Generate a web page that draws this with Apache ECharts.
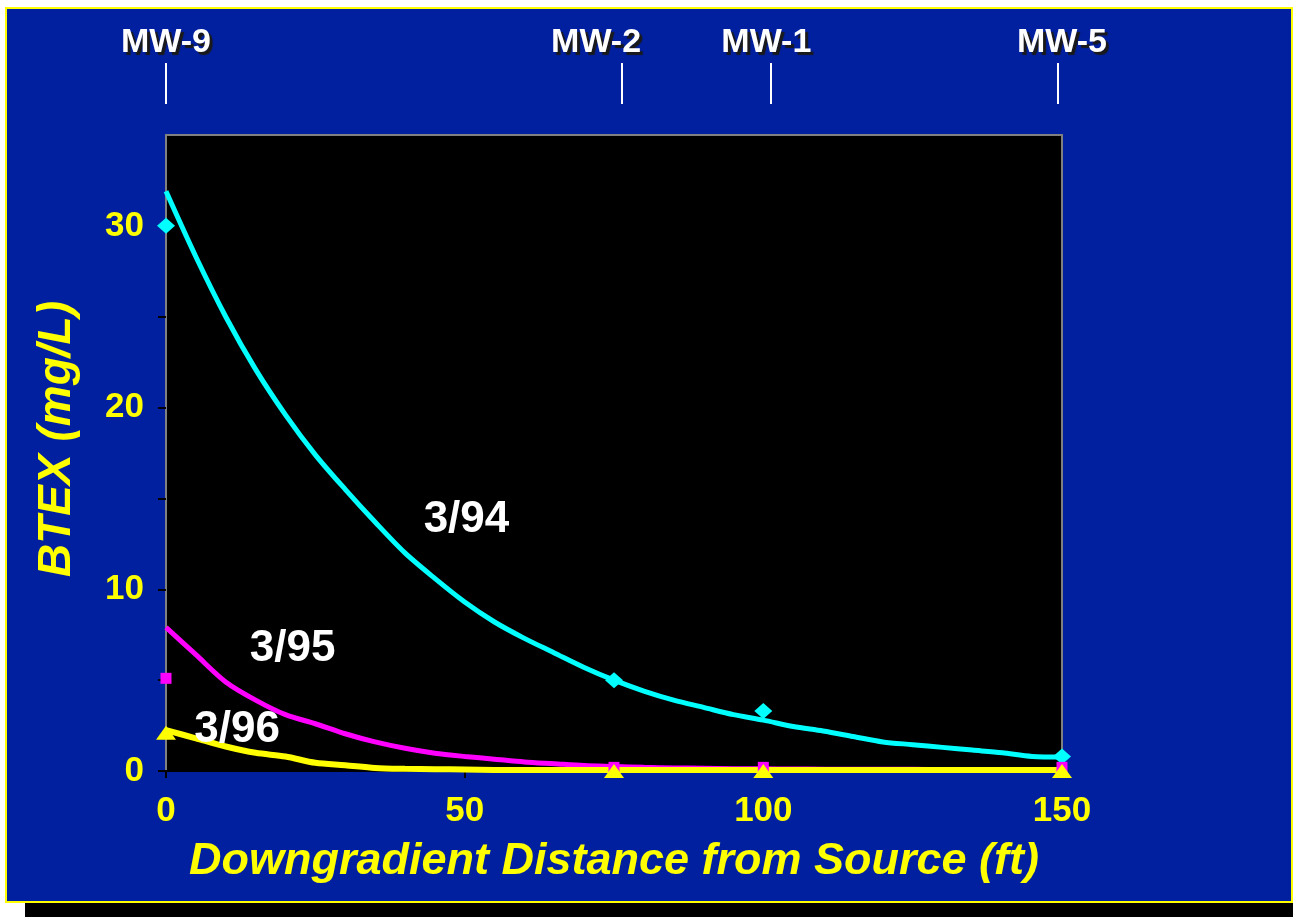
<!DOCTYPE html>
<html lang="en">

<head>
    <meta http-equiv="Content-Type" content="text/html; charset=utf-8" />
    <title>BTEX vs distance</title>
    <style>
        html,
        body {
            width: 100%;
            height: 100%;
            margin: 0;
            padding: 0;
            overflow: hidden;
            background: #ffffff;
        }

        #frame {
            position: absolute;
            left: 5px;
            top: 7px;
            width: 1288px;
            height: 896px;
            box-sizing: border-box;
            border: 2px solid #ffff00;
            background: #0020a0;
        }

        #shadow {
            position: absolute;
            left: 25px;
            top: 903px;
            width: 1268px;
            height: 14px;
            background: #000000;
        }

        #myChart {
            position: absolute;
            left: 0;
            top: 0;
            width: 1293px;
            height: 917px;
        }
    </style>
</head>

<body>
    <div id="shadow"></div>
    <div id="frame"></div>
    <div id="myChart"></div>
    <script src="https://cdn.jsdelivr.net/npm/echarts@6/dist/echarts.min.js"></script>
    <script>
        // distance from source (ft) for the fitted curves
        var fitDist = [0, 5, 10, 15, 20, 25, 30, 35, 40, 45, 50, 55, 60, 65, 70, 75,
            80, 85, 90, 95, 100, 105, 110, 115, 120, 125, 130, 135, 140, 145, 150];
        // fitted BTEX curves (mg/L)
        var fit94 = [31.9, 28.3, 25.0, 22.1, 19.6, 17.4, 15.5, 13.7, 12.0, 10.6, 9.3, 8.2, 7.3, 6.5, 5.7, 5.0,
            4.4, 3.9, 3.5, 3.1, 2.8, 2.45, 2.2, 1.9, 1.6, 1.45, 1.3, 1.15, 1.0, 0.8, 0.77];
        var fit95 = [7.9, 6.4, 4.9, 3.9, 3.1, 2.6, 2.05, 1.6, 1.25, 0.98, 0.8, 0.65, 0.5, 0.4, 0.3, 0.25,
            0.2, 0.17, 0.15, 0.13, 0.12, 0.11, 0.1, 0.1, 0.09, 0.09, 0.08, 0.08, 0.08, 0.08, 0.08];
        var fit96 = [2.25, 1.8, 1.35, 1.0, 0.8, 0.45, 0.32, 0.17, 0.12, 0.1, 0.08, 0.06, 0.05, 0.05, 0.05, 0.05,
            0.05, 0.05, 0.05, 0.05, 0.05, 0.05, 0.05, 0.05, 0.05, 0.05, 0.05, 0.05, 0.05, 0.05, 0.05];

        // measured values at the wells
        var wellDist = [0, 75, 100, 150];
        var obs94 = [30, 5.0, 3.3, 0.8];
        var obs95 = [5.1, 0.2, 0.2, 0.2];
        var obs96 = [2.1, 0, 0, 0];

        // well names along the top
        var wellNames = ['MW-9', 'MW-2', 'MW-1', 'MW-5'];
        var wellTickX = [0, 76.3, 101.2, 149.3];
        var wellLabelX = [0, 72, 100.5, 150];

        // curve labels
        var curveLabels = ['3/94', '3/95', '3/96'];
        var curveLabelX = [50.3, 21.2, 11.9];
        var curveLabelY = [13.8, 6.7, 2.26];

        var yTicks = [0, 10, 20, 30];
        var yMinorTicks = [0, 5, 10, 15, 20, 25, 30];

        function pairs(xs, ys) {
            var out = [];
            for (var i = 0; i < xs.length; i++) {
                out.push([xs[i], ys[i]]);
            }
            return out;
        }

        var font = "'Liberation Sans', Arial, sans-serif";
        var myChart = echarts.init(document.getElementById('myChart'));
        var option = {
            backgroundColor: 'transparent',
            animation: false,
            grid: {
                left: 166,
                top: 135,
                width: 896,
                height: 636,
                show: true,
                backgroundColor: '#000000',
                borderColor: '#808080',
                borderWidth: 2
            },
            xAxis: [{
                type: 'value',
                min: 0,
                max: 150,
                interval: 50,
                name: 'Downgradient Distance from Source (ft)',
                nameLocation: 'middle',
                nameGap: 68,
                nameTextStyle: {
                    color: '#ffff00',
                    fontFamily: font,
                    fontWeight: 'bold',
                    fontStyle: 'italic',
                    fontSize: 45
                },
                axisLine: { show: true, lineStyle: { color: '#000000', width: 2 } },
                axisTick: { show: true, length: 7, lineStyle: { color: '#000000', width: 2 } },
                axisLabel: {
                    color: '#ffff00',
                    fontFamily: font,
                    fontWeight: 'bold',
                    fontSize: 35,
                    margin: 23
                },
                splitLine: { show: false }
            }, {
                type: 'value',
                position: 'top',
                min: 0,
                max: 150,
                offset: 31,
                axisLine: { show: false },
                axisTick: {
                    show: true,
                    customValues: wellTickX,
                    length: 41,
                    lineStyle: { color: '#ffffff', width: 2 }
                },
                axisLabel: {
                    customValues: wellLabelX,
                    margin: 44,
                    color: '#ffffff',
                    fontFamily: font,
                    fontWeight: 'bold',
                    fontSize: 34,
                    textShadowColor: '#1a1a1a',
                    textShadowBlur: 1,
                    textShadowOffsetX: 3,
                    textShadowOffsetY: 3,
                    formatter: function (v) {
                        var i = wellLabelX.indexOf(v);
                        return i >= 0 ? wellNames[i] : '';
                    }
                },
                splitLine: { show: false }
            }],
            yAxis: {
                type: 'value',
                min: 0,
                max: 35,
                interval: 5,
                name: 'BTEX (mg/L)',
                nameLocation: 'middle',
                nameGap: 86,
                nameTextStyle: {
                    color: '#ffff00',
                    fontFamily: font,
                    fontWeight: 'bold',
                    fontStyle: 'italic',
                    fontSize: 46,
                    padding: [0, 0, 0, 28]
                },
                axisLine: { show: false },
                axisTick: {
                    show: true,
                    customValues: yMinorTicks,
                    length: 8,
                    lineStyle: { color: '#000000', width: 2 }
                },
                axisLabel: {
                    color: '#ffff00',
                    fontFamily: font,
                    fontWeight: 'bold',
                    fontSize: 35,
                    margin: 22,
                    formatter: function (v) {
                        return yTicks.indexOf(v) >= 0 ? String(v) : '';
                    }
                },
                splitLine: { show: false }
            },
            series: [{
                type: 'line',
                data: pairs(fitDist, fit94),
                showSymbol: false,
                smooth: 0.3,
                lineStyle: { color: '#00ffff', width: 5 },
                z: 3
            }, {
                type: 'line',
                data: pairs(fitDist, fit95),
                showSymbol: false,
                smooth: 0.3,
                lineStyle: { color: '#ff00ff', width: 5 },
                z: 3
            }, {
                type: 'line',
                data: pairs(fitDist, fit96),
                showSymbol: false,
                smooth: 0.3,
                lineStyle: { color: '#ffff00', width: 6 },
                z: 4
            }, {
                type: 'scatter',
                data: pairs(wellDist, obs94),
                symbol: 'diamond',
                symbolSize: [18, 16],
                itemStyle: { color: '#00ffff', opacity: 1 },
                clip: false,
                z: 5
            }, {
                type: 'scatter',
                data: pairs(wellDist, obs95),
                symbol: 'rect',
                symbolSize: 11,
                itemStyle: { color: '#ff00ff', opacity: 1 },
                clip: false,
                z: 5
            }, {
                type: 'scatter',
                data: pairs(wellDist, obs96),
                symbol: 'triangle',
                symbolSize: [20, 14],
                itemStyle: { color: '#ffff00', opacity: 1 },
                clip: false,
                z: 6
            }, {
                type: 'scatter',
                data: curveLabels.map(function (t, i) {
                    return [curveLabelX[i], curveLabelY[i], t];
                }),
                symbolSize: 0,
                itemStyle: { opacity: 1 },
                z: 8,
                label: {
                    show: true,
                    position: 'inside',
                    color: '#ffffff',
                    fontFamily: font,
                    fontWeight: 'bold',
                    fontSize: 44,
                    formatter: function (p) {
                        return p.data[2];
                    }
                }
            }]
        };
        myChart.setOption(option);
    </script>
</body>

</html>
